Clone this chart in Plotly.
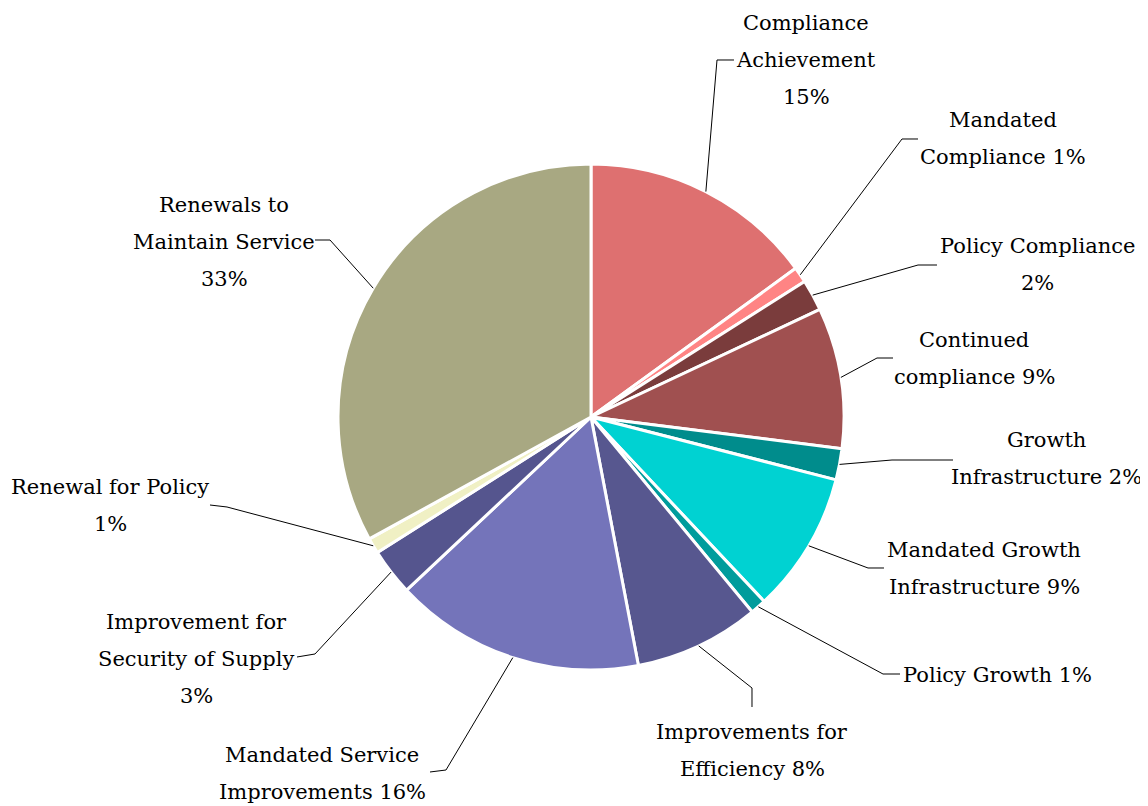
"""Capital programme split by driver - pie with external leader-line labels."""

import math

import plotly.graph_objects as go

# ── Data ─────────────────────────────────────────────────────────────
CATEGORIES = [
    "Compliance Achievement",
    "Mandated Compliance",
    "Policy Compliance",
    "Continued compliance",
    "Growth Infrastructure",
    "Mandated Growth Infrastructure",
    "Policy Growth",
    "Improvements for Efficiency",
    "Mandated Service Improvements",
    "Improvement for Security of Supply",
    "Renewal for Policy",
    "Renewals to Maintain Service",
]
SHARES = [15, 1, 2, 9, 2, 9, 1, 8, 16, 3, 1, 33]

# label text as wrapped in the original ({p} = percentage)
LABEL_LINES = [
    ["Compliance", "Achievement", "{p}"],
    ["Mandated", "Compliance {p}"],
    ["Policy Compliance", "{p}"],
    ["Continued", "compliance {p}"],
    ["Growth", "Infrastructure {p}"],
    ["Mandated Growth", "Infrastructure {p}"],
    ["Policy Growth {p}"],
    ["Improvements for", "Efficiency {p}"],
    ["Mandated Service", "Improvements {p}"],
    ["Improvement for", "Security of Supply", "{p}"],
    ["Renewal for Policy", "{p}"],
    ["Renewals to", "Maintain Service", "{p}"],
]

COLORS = [
    "#DE7070", "#FF8484", "#7A3C3C", "#A05050",
    "#008C8C", "#00D2D2", "#009C9C", "#57578F",
    "#7474BA", "#55558E", "#F0F0C4", "#A8A882",
]

# ── Layout constants (pixels, measured on the 1148x806 page) ────────
PAGE_OFF = 8            # default body margin of the html page
W, H = 1148 - PAGE_OFF, 806 - PAGE_OFF
FONT = "DejaVu Serif"
FONT_SIZE = 21
LINE_GAP = 37
CX, CY, R = 591, 417, 253

# label centre x, first-line y, and leader path after the slice anchor
LABEL_POS = [
    (806, 23, [(717, 60), (734, 60)]),
    (1003, 120, [(902, 139), (918, 139)]),
    (1037, 246, [(918, 265), (937, 265)]),
    (974, 340, [(877, 358), (893, 358)]),
    (1046, 440, [(892, 460), (953, 460)]),
    (984, 550, [(868, 568), (884, 568)]),
    (997, 675, [(883, 674), (900, 674)]),
    (752, 732, [(752, 688), (752, 707)]),
    (322, 755, [(446, 770), (430, 772)]),
    (196, 622, [(315, 654), (297, 657)]),
    (110, 487, [(227, 507), (210, 505)]),
    (224, 205, [(330, 240), (315, 240)]),
]


def px(x, y):
    """Page pixel -> paper coordinates."""
    return (x - PAGE_OFF) / W, 1 - (y - PAGE_OFF) / H


x0, y1 = px(CX - R, CY - R)
x1, y0 = px(CX + R, CY + R)

fig = go.Figure()
fig.add_trace(go.Pie(
    labels=CATEGORIES,
    values=SHARES,
    sort=False,
    direction="clockwise",
    rotation=0,
    textinfo="none",
    hoverinfo="label+percent",
    marker=dict(colors=COLORS, line=dict(color="white", width=3)),
    domain=dict(x=[x0, x1], y=[y0, y1]),
    showlegend=False,
))

total = sum(SHARES)
cum = 0
for i, v in enumerate(SHARES):
    mid = (cum + v / 2) / total * 2 * math.pi
    cum += v
    ax = CX + R * math.sin(mid)
    ay = CY - R * math.cos(mid)
    lx, ly, path = LABEL_POS[i]
    pts = [(ax, ay)] + path
    d = "M " + " L ".join(f"{px(x, y)[0]:.5f},{px(x, y)[1]:.5f}" for x, y in pts)
    fig.add_shape(type="path", path=d, xref="paper", yref="paper",
                  line=dict(color="black", width=1))
    pct = f"{v}%"
    for k, line in enumerate(LABEL_LINES[i]):
        x, y = px(lx, ly + k * LINE_GAP)
        fig.add_annotation(
            x=x, y=y, xref="paper", yref="paper",
            text=line.format(p=pct), showarrow=False,
            xanchor="center", yanchor="middle",
            font=dict(family=FONT, size=FONT_SIZE, color="black"),
        )

fig.update_layout(
    width=W, height=H,
    margin=dict(l=0, r=0, t=0, b=0),
    paper_bgcolor="white",
    plot_bgcolor="white",
)

fig.write_html("out.html")
